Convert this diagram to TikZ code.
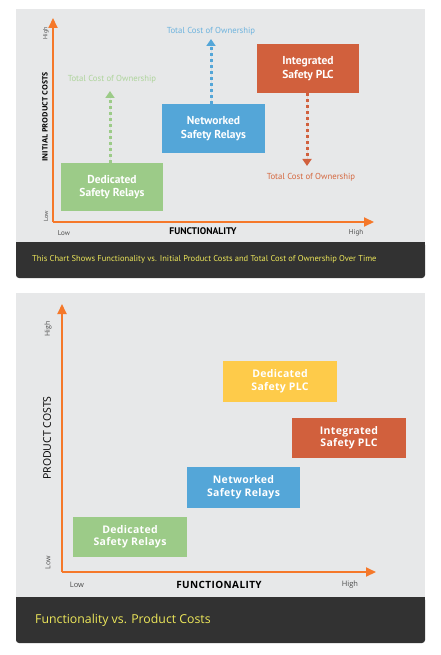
\documentclass[tikz,border=0pt]{standalone}
\usepackage{fontspec}
\setmainfont{Open Sans}
\newfontfamily\cond{PT Sans}
\usetikzlibrary{arrows.meta}
\definecolor{bggray}{HTML}{E7E8E9}
\definecolor{cgreen}{HTML}{9CCB88}
\definecolor{cblue}{HTML}{54A6D8}
\definecolor{cred}{HTML}{D1603D}
\definecolor{cyellow}{HTML}{FECB4A}
\definecolor{caxis}{HTML}{F5782A}
\definecolor{cdark}{HTML}{323232}
\definecolor{ccap}{HTML}{EEE85A}
\definecolor{lgreen}{HTML}{AED49B}
\definecolor{lblue}{HTML}{6DB3DE}
\definecolor{lred}{HTML}{D5683F}
\tikzset{
  x=1pt,y=-1pt,
  panel/.style={fill=bggray,draw=none},
  bar/.style={fill=cdark,draw=none,rounded corners=3pt},
  axisline/.style={draw=caxis,line width=2pt,-{Triangle[length=10pt,width=9pt]}},
  boxtop/.style={inner sep=0pt,align=center,text=white,font=\cond\bfseries\fontsize{11.5}{13.5}\selectfont},
  boxbot/.style={inner sep=0pt,align=center,text=white,font=\bfseries\addfontfeature{LetterSpace=3}\fontsize{10.5}{12.5}\selectfont},
  dotarrow/.style={line width=3pt,dash pattern=on 3pt off 3pt,-{Triangle[length=7pt,width=9pt]}},
  tcolab/.style={inner sep=0pt,font=\cond\fontsize{8.7}{10}\selectfont},
  ticklab/.style={inner sep=0pt,font=\fontsize{6}{7}\selectfont,text=black!70},
}
\begin{document}
\begin{tikzpicture}
\useasboundingbox[fill=white] (0,0) rectangle (441,655);
% ---------------- top panel
\fill[panel] (16,9) rectangle (425,243);
\fill[bar] (16,242) rectangle (425,278);
\fill[cdark] (16,242) rectangle (425,260);
\coordinate (o1) at (53,222);
\coordinate (y1) at (53,18);
\coordinate (x1) at (374,222);
\draw[axisline] (o1) -- (y1);
\draw[axisline] (o1) -- (x1);
\node[ticklab,rotate=90,font=\cond\fontsize{6}{7}\selectfont] (yh1) at (46,33) {High};
\node[ticklab,rotate=90,font=\cond\fontsize{6}{7}\selectfont] (yl1) at (46,216) {Low};
\node[inner sep=0pt,rotate=90,font=\bfseries\fontsize{7.4}{9}\selectfont] (ylab1) at (45,117) {INITIAL PRODUCT COSTS};
\node[ticklab,font=\cond\fontsize{7}{8}\selectfont] (xl1) at (64,233) {Low};
\node[ticklab,font=\cond\fontsize{7}{8}\selectfont] (xh1) at (356,233) {High};
\node[inner sep=0pt,font=\cond\bfseries\fontsize{9.6}{10}\selectfont] (xlab1) at (203,231) {FUNCTIONALITY};
\node[boxtop,fill=cgreen,minimum width=102pt,minimum height=48pt] (dsr1) at (112,187) {Dedicated\\Safety Relays};
\node[boxtop,fill=cblue,minimum width=103pt,minimum height=49pt] (nsr1) at (213.5,128.5) {Networked\\Safety Relays};
\node[boxtop,fill=cred,minimum width=102pt,minimum height=49pt] (isp1) at (308,68.5) {Integrated\\Safety PLC};
\coordinate (gt) at (110,91);
\coordinate (bt) at (211,39);
\coordinate (rt) at (307,166);
\draw[dotarrow,draw=cgreen,fill=cgreen] (dsr1.north -| gt) -- (gt);
\draw[dotarrow,draw=cblue,fill=cblue] (nsr1.north -| bt) -- (bt);
\draw[dotarrow,draw=cred,fill=cred] (isp1.south -| rt) -- (rt);
\node[tcolab,text=lgreen] (gl) at (112,79) {Total Cost of Ownership};
\node[tcolab,text=lblue] (bl) at (211,31) {Total Cost of Ownership};
\node[tcolab,text=lred] (rl) at (311,177) {Total Cost of Ownership};
\node[anchor=west,inner sep=0pt,text=ccap,font=\cond\fontsize{8.5}{10}\selectfont] (cap1) at (32,259) {This Chart Shows Functionality vs. Initial Product Costs and Total Cost of Ownership Over Time};
% ---------------- bottom panel
\fill[panel] (16,293) rectangle (425,598);
\fill[bar] (16,597) rectangle (425,643);
\fill[cdark] (16,597) rectangle (425,615);
\coordinate (o2) at (62,572);
\coordinate (y2) at (62,304);
\coordinate (x2) at (376,572);
\draw[axisline] (o2) -- (y2);
\draw[axisline] (o2) -- (x2);
\node[ticklab,rotate=90,font=\fontsize{7}{8}\selectfont] (yh2) at (48,329) {High};
\node[ticklab,rotate=90,font=\fontsize{7}{8}\selectfont] (yl2) at (48,563) {Low};
\node[inner sep=0pt,rotate=90,font=\fontsize{10.5}{12}\selectfont] (ylab2) at (47,438) {PRODUCT COSTS};
\node[ticklab,font=\fontsize{7.5}{8}\selectfont] (xl2) at (77,585) {Low};
\node[ticklab,font=\fontsize{7.5}{8}\selectfont] (xh2) at (350,585) {High};
\node[inner sep=0pt,font=\bfseries\addfontfeature{LetterSpace=4}\fontsize{10}{11}\selectfont] (xlab2) at (219,585) {FUNCTIONALITY};
\node[boxbot,fill=cyellow,minimum width=114pt,minimum height=41pt] (dsp2) at (280,381.5) {Dedicated\\Safety PLC};
\node[boxbot,fill=cred,minimum width=114pt,minimum height=40pt] (isp2) at (349,438) {Integrated\\Safety PLC};
\node[boxbot,fill=cblue,minimum width=113pt,minimum height=41pt] (nsr2) at (243.5,487.5) {Networked\\Safety Relays};
\node[boxbot,fill=cgreen,minimum width=114pt,minimum height=40pt] (dsr2) at (130,537) {Dedicated\\Safety Relays};
\node[anchor=west,inner sep=0pt,text=ccap,font=\fontsize{12.3}{14}\selectfont] (cap2) at (35,620) {Functionality vs. Product Costs};
\end{tikzpicture}
\end{document}
